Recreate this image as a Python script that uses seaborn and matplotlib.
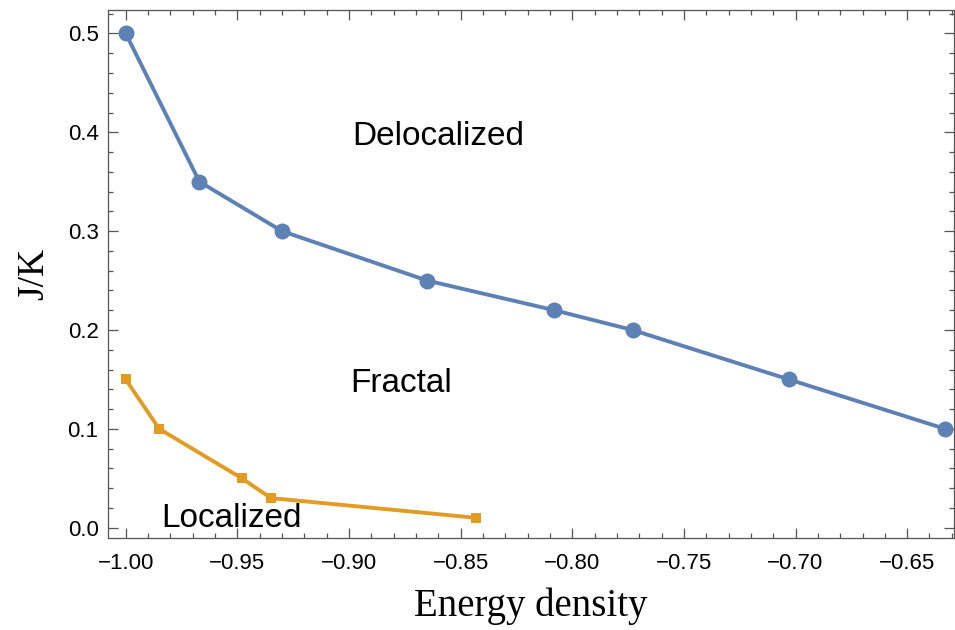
import matplotlib
matplotlib.use("Agg")
import matplotlib.pyplot as plt
import seaborn as sns
import numpy as np
import pandas as pd
from matplotlib.ticker import MultipleLocator, FormatStrFormatter

# Data
deloc_x = [-1.000, -0.967, -0.930, -0.865, -0.808, -0.773, -0.703, -0.633]
deloc_y = [0.50, 0.35, 0.30, 0.25, 0.22, 0.20, 0.15, 0.10]
loc_x = [-1.000, -0.985, -0.948, -0.935, -0.843]
loc_y = [0.15, 0.10, 0.05, 0.03, 0.01]

x_ticks = [-1.00, -0.95, -0.90, -0.85, -0.80, -0.75, -0.70, -0.65]
y_ticks = [0.0, 0.1, 0.2, 0.3, 0.4, 0.5]

region_labels = ["Delocalized", "Fractal", "Localized"]
region_x = [-0.860, -0.8765, -0.9526]
region_y = [0.387, 0.1375, 0.001]

blue = "#5E81B5"
orange = "#E19C24"

sns.set_style("ticks")
plt.rcParams["font.family"] = ["Liberation Sans", "DejaVu Sans"]
plt.rcParams["text.color"] = "black"
plt.rcParams["axes.labelcolor"] = "black"
plt.rcParams["xtick.labelcolor"] = "black"
plt.rcParams["ytick.labelcolor"] = "black"

fig = plt.figure(figsize=(9.55, 6.3), dpi=100)
ax = fig.add_axes([0.1134, 0.1465, 0.999 - 0.1134, 0.984 - 0.1465])

sns.lineplot(x=deloc_x, y=deloc_y, ax=ax, color=blue, linewidth=2.8,
             marker="o", markersize=11.5, markeredgewidth=0, sort=False)
sns.lineplot(x=loc_x, y=loc_y, ax=ax, color=orange, linewidth=2.8,
             marker="s", markersize=7.5, markeredgewidth=0, sort=False)

ax.set_xlim(-1.0078, -0.629)
ax.set_ylim(-0.0101, 0.5236)

ax.set_xticks(x_ticks)
ax.set_yticks(y_ticks)
ax.yaxis.set_major_formatter(FormatStrFormatter("%.1f"))
ax.set_xticklabels([("\u2212%.2f" % abs(v)) for v in x_ticks])
ax.xaxis.set_minor_locator(MultipleLocator(0.01))
ax.yaxis.set_minor_locator(MultipleLocator(0.02))

ax.tick_params(which="both", direction="in", top=True, right=True,
               labeltop=False, labelright=False, color="#555555", width=0.9)
ax.tick_params(which="major", length=7, labelsize=16, labelcolor="black")
ax.tick_params(axis="x", which="major", pad=11)
ax.tick_params(axis="y", which="major", pad=7)
ax.tick_params(which="minor", length=3.5)
for sp in ax.spines.values():
    sp.set_color("#555555")
    sp.set_linewidth(0.9)
    sp.set_visible(True)

ax.set_xlabel("Energy density", fontsize=28, color="black",
              family=["Liberation Serif", "DejaVu Serif"], labelpad=10)
ax.set_ylabel("J/K", fontsize=27, color="black",
              family=["Liberation Serif", "DejaVu Serif"], labelpad=12)

for lab, tx, ty in zip(region_labels, region_x, region_y):
    ax.text(tx, ty, lab, fontsize=24, ha="center", va="baseline", color="black")

fig.savefig("out.png", dpi=100)
